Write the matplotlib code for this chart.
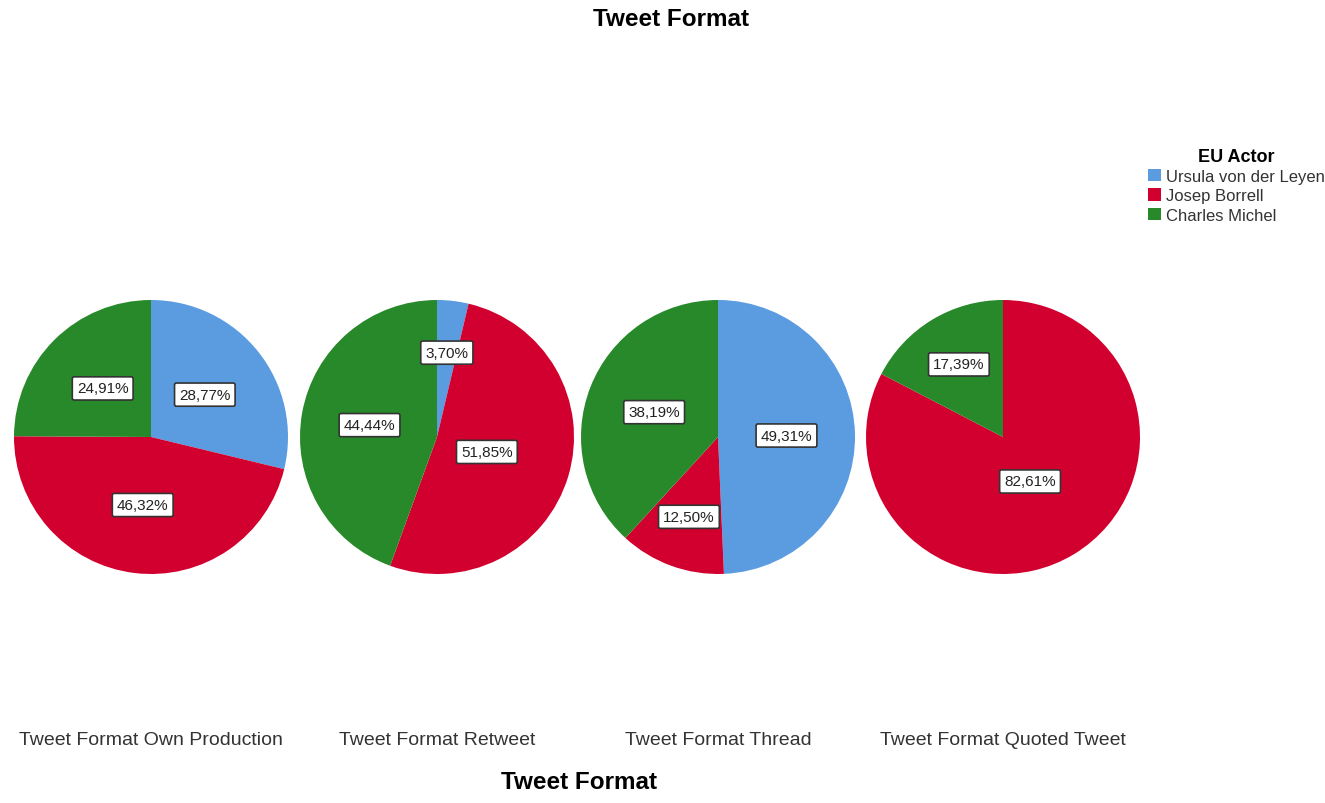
#!/usr/bin/env python3
"""
Pie charts of EU actor share per tweet format.
"""

import matplotlib
matplotlib.use("Agg")
import matplotlib.pyplot as plt
import numpy as np
from matplotlib.patches import Patch

plt.rcParams['font.family'] = ['Liberation Sans', 'DejaVu Sans']

actors = ["Ursula von der Leyen", "Josep Borrell", "Charles Michel"]
formats = ["Tweet Format Own Production", "Tweet Format Retweet",
           "Tweet Format Thread", "Tweet Format Quoted Tweet"]
own_production = [28.77, 46.32, 24.91]
retweet = [3.70, 51.85, 44.44]
thread = [49.31, 12.50, 38.19]
quoted_tweet = [0.0, 82.61, 17.39]
shares = [own_production, retweet, thread, quoted_tweet]

colors = ["#5b9be0", "#d2002e", "#28892a"]

W, H = 1325, 804
fig = plt.figure(figsize=(W / 100, H / 100), dpi=100)

centers_x = [151, 437, 718, 1003]
center_y = 438
radius = 137


def label_radius(frac):
    if frac < 0.2:
        return 0.62
    if frac < 0.5:
        return 0.5
    return 0.38


for cx, vals, name in zip(centers_x, shares, formats):
    ax = fig.add_axes([(cx - radius) / W, (H - center_y - radius) / H,
                       2 * radius / W, 2 * radius / H])
    ax.pie(vals, colors=colors, startangle=90, counterclock=False,
           radius=1.0, wedgeprops=dict(linewidth=0))
    ax.set_xlim(-1, 1)
    ax.set_ylim(-1, 1)
    ax.set_aspect('equal')
    ax.axis('off')

    # percentage labels in boxes
    total = sum(vals)
    start = 90.0
    for v in vals:
        sweep = 360.0 * v / total
        if v > 0:
            mid = np.deg2rad(start - sweep / 2)
            r = label_radius(v / total)
            ax.text(r * np.cos(mid), r * np.sin(mid),
                    f"{v:.2f}%".replace('.', ','),
                    ha='center', va='center', fontsize=11, color='#222222',
                    bbox=dict(boxstyle='round,pad=0.3,rounding_size=0.12',
                              facecolor='white', edgecolor='#333333',
                              linewidth=1.2))
        start -= sweep

    fig.text(cx / W, 1 - 741 / H, name, ha='center', va='center',
             fontsize=14, color='#333333')

fig.text(671 / W, 1 - 20 / H, "Tweet Format", ha='center', va='center',
         fontsize=17.5, fontweight='bold')
fig.text(579 / W, 1 - 783 / H, "Tweet Format", ha='center', va='center',
         fontsize=17.5, fontweight='bold')

handles = [Patch(facecolor=c, edgecolor='none') for c in colors]
leg = fig.legend(handles, actors, title="EU Actor", loc='upper left',
                 bbox_to_anchor=(1133 / W, 1 - 134 / H), frameon=False,
                 fontsize=12, handlelength=0.75, handleheight=0.75,
                 handletextpad=0.3, labelspacing=0.25,
                 title_fontproperties=dict(weight='bold', size=13))
for t in leg.get_texts():
    t.set_color('#333333')

fig.savefig("out.png", dpi=100)
